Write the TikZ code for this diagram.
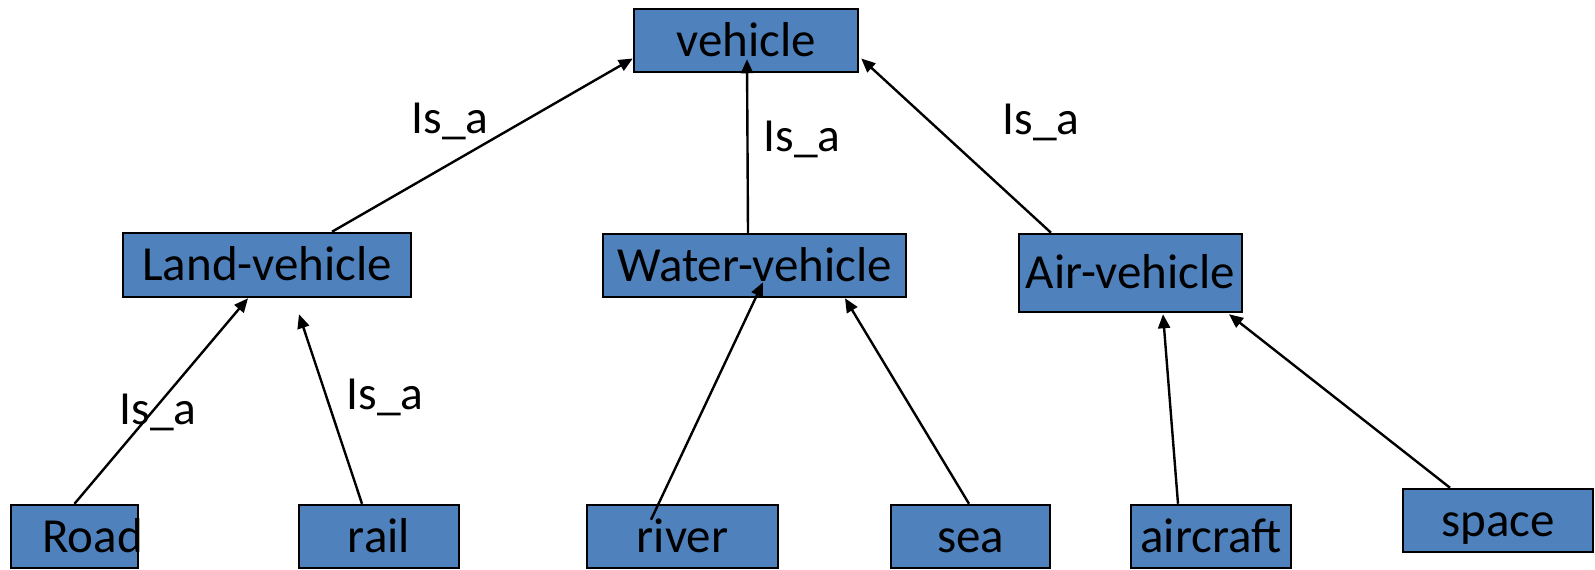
\documentclass[tikz,border=0pt]{standalone}
\usepackage{fontspec}
\setmainfont{Carlito}
\usetikzlibrary{arrows.meta,calc}
\definecolor{boxblue}{HTML}{4F81BD}
\tikzset{
  cls/.style={draw=black, fill=boxblue, line width=2.5pt, inner sep=0pt,
    text height=31.5pt, text depth=0pt,
    font=\fontsize{49}{59}\selectfont},
  isa/.style={draw=black, line width=2.4pt, -{Triangle[length=14pt,width=12pt]}},
  rel/.style={inner sep=0pt, font=\fontsize{47.5}{57}\selectfont}
}
\begin{document}
\begin{tikzpicture}[x=1pt,y=-1pt]
\useasboundingbox (0,0) rectangle (1595,570);
% class boxes
\node[cls, minimum width=224pt, minimum height=63pt] (vehicle) at (746,40.5) {vehicle};
\node[cls, minimum width=288pt, minimum height=64pt] (land) at (267,265) {Land-vehicle};
\node[cls, minimum width=303pt, minimum height=63pt] (water) at (754.5,265.5) {Water-vehicle};
\node[cls, minimum width=223pt, minimum height=78pt] (air) at (1130.5,273) {Air-vehicle};
\node[cls, minimum width=127pt, minimum height=63pt] (road) at (74.5,536.5) {};
\begin{scope}
  \clip (road.south west) rectangle (road.north east);
  \node[cls, draw=none, fill=none, anchor=west] (roadtext) at (41,536.5) {Road};
\end{scope}
\node[cls, minimum width=160pt, minimum height=63pt] (rail) at (379,536.5) {rail};
\node[cls, minimum width=191pt, minimum height=63pt] (river) at (682.5,536.5) {river};
\node[cls, minimum width=159pt, minimum height=63pt] (sea) at (970.5,536.5) {sea};
\node[cls, minimum width=160pt, minimum height=63pt] (aircraft) at (1211,536.5) {aircraft};
\node[cls, minimum width=190pt, minimum height=63pt] (space) at (1498,520.5) {space};
% is-a links
\draw[isa] ($(land.north)+(65,0)$) -- ($(vehicle.west)+(0,18)$);
\draw[isa] ($(water.north)+(-6.5,0)$) -- ($(vehicle.south)+(1,-14)$);
\draw[isa] ($(air.north)+(-79.5,0)$) -- ($(vehicle.east)+(2,18)$);
\draw[isa] (road.north) -- ($(land.south)+(-19,0)$);
\draw[isa] ($(rail.north)+(-17,0)$) -- ($(land.south)+(32,16)$);
\draw[isa] ($(river.north)+(-31.5,16)$) -- ($(water.south)+(8.5,-16)$);
\draw[isa] ($(sea.north)+(-1.5,0)$) -- ($(water.south)+(90.5,0)$);
\draw[isa] ($(aircraft.north)+(-33,0)$) -- ($(air.south)+(32.5,1)$);
\draw[isa] ($(space.north)+(-48,0)$) -- ($(air.south)+(98.5,1)$);
% relation labels
\node[rel] (l1) at (450,121) {Is\_a};
\node[rel] (l2) at (802,139) {Is\_a};
\node[rel] (l3) at (1041,122) {Is\_a};
\node[rel] (l4) at (158,412) {Is\_a};
\node[rel] (l5) at (385,397) {Is\_a};
\end{tikzpicture}
\end{document}
